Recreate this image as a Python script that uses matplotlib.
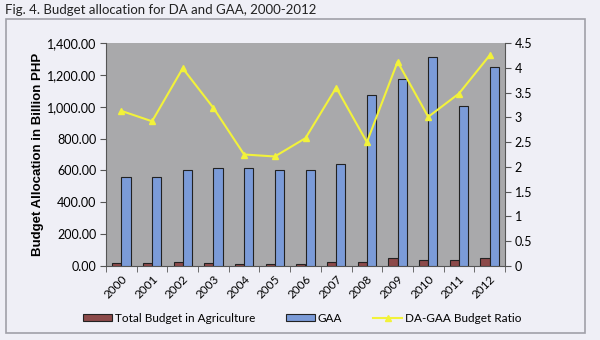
import numpy as np
import matplotlib.pyplot as plt
from matplotlib.patches import Rectangle
from matplotlib.ticker import FuncFormatter

years = ['2000', '2001', '2002', '2003', '2004', '2005', '2006',
         '2007', '2008', '2009', '2010', '2011', '2012']
agri = [17.7, 16.2, 24.0, 19.7, 13.9, 13.3, 15.6, 23.0, 26.8, 48.0, 39.4, 35.0, 53.0]
gaa = [561, 558, 603, 617, 617, 603, 603, 640, 1072, 1176, 1310, 1006, 1251]
ratio = [3.13, 2.92, 3.99, 3.19, 2.25, 2.21, 2.58, 3.60, 2.50, 4.12, 3.01, 3.48, 4.25]

bg = '#efeff6'
fig = plt.figure(figsize=(6, 3.4), dpi=100, facecolor=bg)
fig.patches.append(Rectangle((6/600, 1-333/340), 579/600, 314/340, transform=fig.transFigure,
                             fill=False, edgecolor='#a0a0a8', linewidth=1.2))
fig.text(5/600, 1-10/340, 'Fig. 4. Budget allocation for DA and GAA, 2000-2012',
         fontsize=9.5, family='Lato', va='center', ha='left', color='#222222')

ax = fig.add_axes([106/600, 1-266/340, 399/600, 223/340])
ax.set_facecolor('#a9a9ab')
x = np.arange(len(years))
w = 0.3
b1 = ax.bar(x - w/2, agri, w, color='#8c4a4a', edgecolor='#222222', linewidth=0.8,
            label='Total Budget in Agriculture', zorder=3)
b2 = ax.bar(x + w/2, gaa, w, color='#7b9bd8', edgecolor='#222222', linewidth=0.8,
            label='GAA', zorder=3)
ax.set_xlim(-0.5, len(years) - 0.5)
ax.set_ylim(0, 1400)
ax.set_yticks(np.arange(0, 1401, 200))
ax.yaxis.set_major_formatter(FuncFormatter(lambda v, p: f'{v:,.2f}'))
ax.set_xticks(x)
ax.set_xticklabels(years, rotation=45, ha='right', rotation_mode='anchor', family='Lato', fontsize=8.5)
ax.tick_params(axis='x', length=0, pad=5)
ax.set_xticks(np.arange(-0.5, len(years)), minor=True)
ax.tick_params(axis='x', which='minor', length=4, color='#555555')
for lab in ax.get_yticklabels():
    lab.set_family('Lato')
    lab.set_fontsize(9)
ax.tick_params(axis='y', length=4, color='#555555', pad=3)
ax.set_ylabel('Budget Allocation in Billion PHP', family='Liberation Sans', fontweight='bold',
              fontsize=9.5, labelpad=2)
for s in ['top', 'right']:
    ax.spines[s].set_visible(False)
for s in ['left', 'bottom']:
    ax.spines[s].set_color('#555555')

ax2 = ax.twinx()
l1, = ax2.plot(x, ratio, color='#f2f23a', marker='^', markersize=5, linewidth=1.5,
               label='DA-GAA Budget Ratio', zorder=4)
ax2.set_ylim(0, 4.5)
ax2.set_yticks(np.arange(0, 4.51, 0.5))
ax2.set_yticklabels(['0', '0.5', '1', '1.5', '2', '2.5', '3', '3.5', '4', '4.5'],
                    family='Lato', fontsize=9)
ax2.tick_params(axis='y', length=4, color='#555555', pad=3)
for s in ['top', 'left', 'bottom']:
    ax2.spines[s].set_visible(False)
ax2.spines['right'].set_color('#555555')

fig.legend(handles=[b1, b2, l1], loc='center', bbox_to_anchor=(302/600, 1-318/340), ncol=3,
           frameon=False, prop={'family': 'Lato', 'size': 8.5}, columnspacing=2.6,
           handlelength=2.5, handleheight=0.6, handletextpad=0.2)

fig.savefig('out.png', dpi=100, facecolor=bg)
